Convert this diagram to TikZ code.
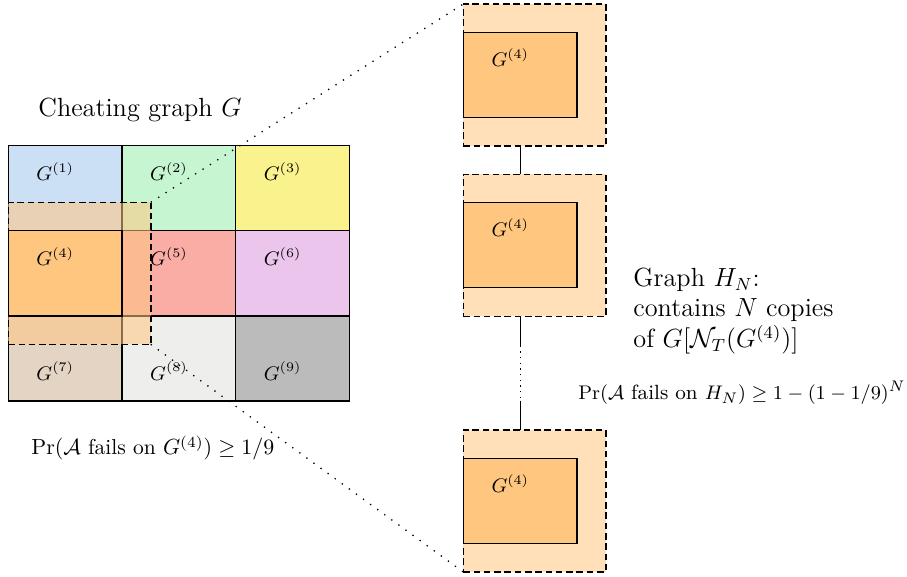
\documentclass[tikz,border=0pt]{standalone}
\usepackage{amsmath,amssymb}
\definecolor{cA}{HTML}{CCE0F5}
\definecolor{cB}{HTML}{C6F5D2}
\definecolor{cC}{HTML}{FAF28C}
\definecolor{cD}{HTML}{FFC680}
\definecolor{cE}{HTML}{F9ADA5}
\definecolor{cF}{HTML}{EBC5EC}
\definecolor{cG}{HTML}{E4D4C4}
\definecolor{cH}{HTML}{EEEEEC}
\definecolor{cI}{HTML}{BBBBBB}
\definecolor{nbrorange}{HTML}{FFC680}
\begin{document}
\begin{tikzpicture}[x=0.457pt,y=-0.457pt,
  cell/.style={draw=black,line width=0.6pt,minimum width=51.96pt,minimum height=38.9pt,
    inner sep=0pt,outer sep=0pt,anchor=north west},
  nbr/.style={draw=black,line width=0.7pt,dash pattern=on 3pt off 1.7pt,fill=nbrorange,
    fill opacity=0.55,minimum width=65.1pt,minimum height=64.9pt,inner sep=0pt,outer sep=0pt,
    anchor=north west},
  lab/.style={font=\small,inner sep=0pt},
  link/.style={line width=0.6pt},
  zoomline/.style={line width=0.6pt,dash pattern=on 0.6pt off 3.4pt}
]
\useasboundingbox (0,0) rectangle (907,577);

% left grid
\node[cell,fill=cA] (c1) at (8.3,145.7) {};
\node[cell,fill=cB] (c2) at (122.0,145.7) {};
\node[cell,fill=cC] (c3) at (235.7,145.7) {};
\node[cell,fill=cD] (c4) at (8.3,230.8) {};
\node[cell,fill=cE] (c5) at (122.0,230.8) {};
\node[cell,fill=cF] (c6) at (235.7,230.8) {};
\node[cell,fill=cG] (c7) at (8.3,315.9) {};
\node[cell,fill=cH] (c8) at (122.0,315.9) {};
\node[cell,fill=cI] (c9) at (235.7,315.9) {};

% neighbourhood overlay
\node[nbr] (nb) at (8.3,202.3) {};
\node[cell,fill=cD] (c4top) at (8.3,230.8) {};

\foreach \i in {1,2,3,5,6}{
  \node[lab] (l\i) at ([shift={(47,26)}]c\i.north west) {$G^{(\i)}$};
}
\foreach \i in {7,8,9}{
  \node[lab] (l\i) at ([shift={(47,55)}]c\i.north west) {$G^{(\i)}$};
}
\node[lab] (l4) at ([shift={(47,26)}]c4top.north west) {$G^{(4)}$};

% right copies
\node[nbr] (o1) at (463.3,4.0) {};
\node[cell,fill=cD] (i1) at (463.3,32.4) {};
\node[lab] (k1) at ([shift={(47,25)}]i1.north west) {$G^{(4)}$};

\node[nbr] (o2) at (463.3,174.3) {};
\node[cell,fill=cD] (i2) at (463.3,202.7) {};
\node[lab] (k2) at ([shift={(47,25)}]i2.north west) {$G^{(4)}$};

\node[nbr] (o3) at (463.3,430.0) {};
\node[cell,fill=cD] (i3) at (463.3,458.4) {};
\node[lab] (k3) at ([shift={(47,25)}]i3.north west) {$G^{(4)}$};

% connectors between copies
\draw[link] (o1.south -| i1.south) -- (o2.north -| i2.north);
\coordinate (m1) at ([yshift=-13.4pt]o2.south -| i2.south);
\coordinate (m2) at ([yshift=13.3pt]o3.north -| i3.north);
\draw[link] (o2.south -| i2.south) -- (m1);
\draw[link,dotted] (m1) -- (m2);
\draw[link] (m2) -- (o3.north -| i3.north);

% zoom lines
\draw[zoomline] (nb.north east) -- (o1.north west);
\draw[zoomline] (nb.south east) -- (o3.south west);

% texts
\node[font=\large,anchor=west,inner sep=0pt] (title) at (38,110) {Cheating graph $G$};
\node[font=\fontsize{9.85pt}{12pt}\selectfont,anchor=west,inner sep=0pt] (prl) at (31,448)
  {$\Pr(\mathcal{A}\text{ fails on }G^{(4)})\geq 1/9$};
\node[font=\large,align=left,anchor=west,inner sep=0pt] (hn) at (633,311)
  {Graph $H_N$:\\contains $N$ copies\\of $G[\mathcal{N}_T(G^{(4)})]$};
\node[font=\fontsize{9.4pt}{11pt}\selectfont,anchor=west,inner sep=0pt] (prr) at (578,393)
  {$\Pr(\mathcal{A}\text{ fails on }H_N)\geq 1-(1-1/9)^N$};
\end{tikzpicture}
\end{document}
